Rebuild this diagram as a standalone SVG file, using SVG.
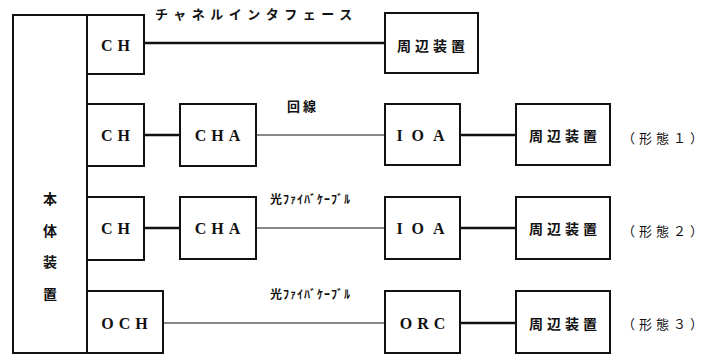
<svg xmlns="http://www.w3.org/2000/svg" width="711" height="358" viewBox="0 0 711 358">
<style>
.box{fill:#fff;stroke:#111;stroke-width:2}
.lat{font-family:"Liberation Serif",serif;font-size:16px;font-weight:bold;fill:#111;text-anchor:middle;dominant-baseline:central;letter-spacing:5px}
.jp{font-family:"Noto Sans CJK JP",sans-serif;font-size:14px;font-weight:bold;fill:#111;text-anchor:middle;dominant-baseline:central;letter-spacing:4px}
.lbl{font-family:"Noto Sans CJK JP",sans-serif;font-size:13px;font-weight:bold;fill:#111;dominant-baseline:central}
.form{font-family:"Noto Sans CJK JP",sans-serif;font-size:13px;fill:#111;dominant-baseline:central;letter-spacing:4px}
.thick{stroke:#111;stroke-width:2.6;fill:none}
.thin{stroke:#111;stroke-width:1.2;fill:none}
</style>
<rect width="711" height="358" fill="#fff"/>
<g id="connectors">
<line class="thick" x1="144" y1="43" x2="385" y2="43"/>
<line class="thick" x1="144" y1="135" x2="180" y2="135"/>
<line class="thin" x1="256" y1="135" x2="385" y2="135"/>
<line class="thick" x1="460" y1="135" x2="516" y2="135"/>
<line class="thick" x1="144" y1="228" x2="180" y2="228"/>
<line class="thin" x1="256" y1="228" x2="385" y2="228"/>
<line class="thick" x1="460" y1="228" x2="516" y2="228"/>
<line class="thin" x1="163" y1="323" x2="385" y2="323"/>
<line class="thick" x1="460" y1="323" x2="516" y2="323"/>
</g>
<g id="main">
<rect class="box" x="13" y="15" width="74" height="338"/>
<text class="jp" x="50" y="198" style="letter-spacing:0">本</text>
<text class="jp" x="50" y="230" style="letter-spacing:0">体</text>
<text class="jp" x="50" y="261" style="letter-spacing:0">装</text>
<text class="jp" x="50" y="293" style="letter-spacing:0">置</text>
</g>
<g id="ch1"><rect class="box" x="87" y="15" width="57" height="59"/><text class="lat" x="118" y="45">CH</text></g>
<g id="ch2"><rect class="box" x="87" y="104" width="57" height="62"/><text class="lat" x="118" y="135">CH</text></g>
<g id="ch3"><rect class="box" x="87" y="197" width="57" height="63"/><text class="lat" x="118" y="228">CH</text></g>
<g id="och"><rect class="box" x="87" y="291" width="76" height="62"/><text class="lat" x="127" y="323">OCH</text></g>
<g id="cha1"><rect class="box" x="180" y="104" width="76" height="62"/><text class="lat" x="220" y="135">CHA</text></g>
<g id="cha2"><rect class="box" x="180" y="197" width="76" height="62"/><text class="lat" x="220" y="228">CHA</text></g>
<g id="ioa1"><rect class="box" x="385" y="104" width="75" height="61"/><text class="lat" x="425" y="135" style="letter-spacing:9px">IOA</text></g>
<g id="ioa2"><rect class="box" x="385" y="197" width="75" height="62"/><text class="lat" x="425" y="228" style="letter-spacing:9px">IOA</text></g>
<g id="orc"><rect class="box" x="385" y="291" width="75" height="62"/><text class="lat" x="425" y="323">ORC</text></g>
<g id="p0"><rect class="box" x="385" y="13" width="93" height="60"/><text class="jp" x="433" y="45">周辺装置</text></g>
<g id="p1"><rect class="box" x="516" y="104" width="94" height="61"/><text class="jp" x="565" y="135">周辺装置</text></g>
<g id="p2"><rect class="box" x="516" y="197" width="94" height="62"/><text class="jp" x="565" y="228">周辺装置</text></g>
<g id="p3"><rect class="box" x="516" y="291" width="94" height="62"/><text class="jp" x="565" y="323">周辺装置</text></g>
<g id="labels">
<text class="lbl" x="155" y="13" style="letter-spacing:5.5px">チャネルインタフェース</text>
<text class="lbl" x="287" y="105" style="letter-spacing:3px">回線</text>
<text class="lbl" x="270" y="198" style="font-size:12px;letter-spacing:1px">光ﾌｧｲﾊﾞｹｰﾌﾞﾙ</text>
<text class="lbl" x="270" y="293" style="font-size:12px;letter-spacing:1px">光ﾌｧｲﾊﾞｹｰﾌﾞﾙ</text>
<text class="form" x="622" y="137">（形態１）</text>
<text class="form" x="622" y="230">（形態２）</text>
<text class="form" x="622" y="323">（形態３）</text>
</g>
</svg>
